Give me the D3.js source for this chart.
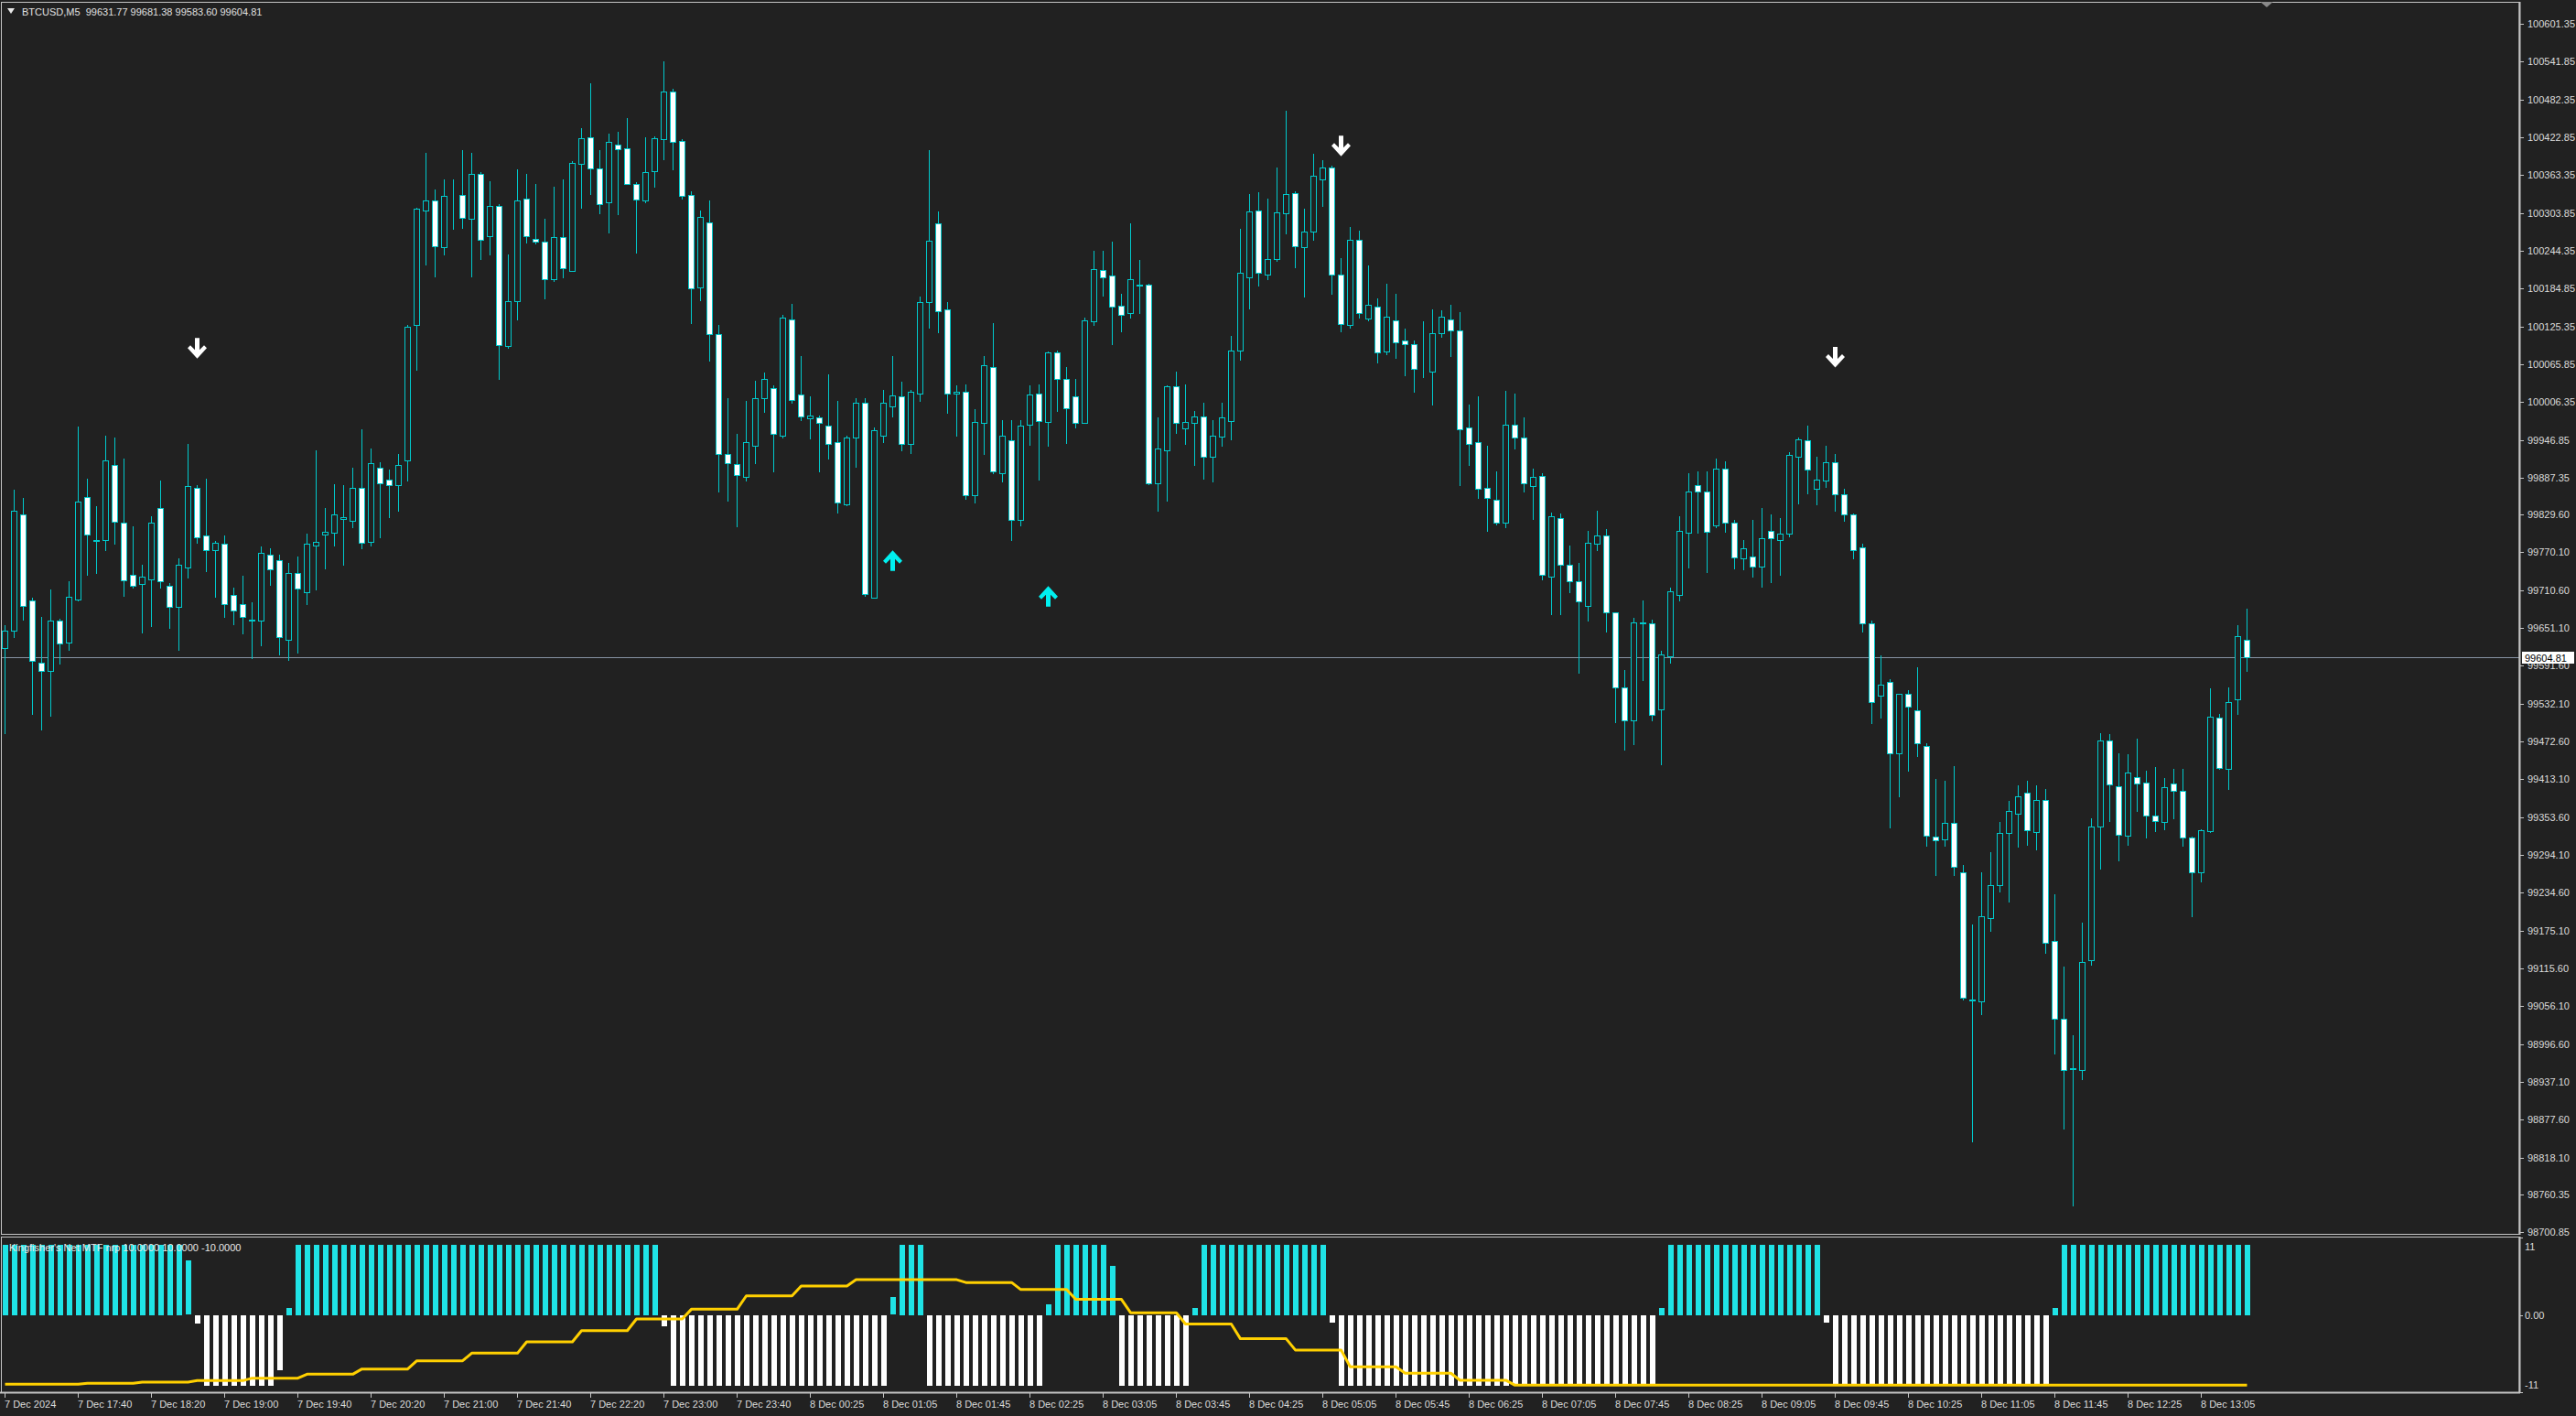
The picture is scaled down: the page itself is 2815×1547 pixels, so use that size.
<!DOCTYPE html>
<html><head><meta charset="utf-8">
<script src="https://cdn.jsdelivr.net/npm/d3@7"></script>
<style>
html,body{margin:0;padding:0;background:#212121;overflow:hidden}
svg{display:block}
text{font-family:"Liberation Sans",Arial,sans-serif;font-size:11px}
</style></head><body>
<svg id="c" width="2815" height="1547"></svg>
<script>
// ---------- DATA ----------
const symbolTitle = "BTCUSD,M5";
const lastOHLC = [99631.77, 99681.38, 99583.60, 99604.81];

const opens = [
99619,99647,99830,99694,99596,99583,99663,99628,99696,99857,99789,99789,99908,99816,99735,99720,99727,99840,99717,99684,
99746,99871,99797,99774,99784,99703,99688,99664,99663,99766,99757,99633,99737,99707,99781,99798,99801,99823,99820,99872,
99787,99903,99885,99876,99915,100127,100308,100324,100250,100331,100332,100294,100365,100268,100315,100095,100165,100326,100263,100259,
100199,100266,100213,100381,100423,100374,100320,100412,100405,100350,100324,100370,100420,100495,100417,100332,100187,100289,100113,99924,
99909,99888,
99938,100012,100029,99954,100137,100018,99981,99982,99969,99943,99846,99950,100006,99699,99954,99999,100016,99940,100019,100163,
100288,100152,100020,100023,99860,99973,100061,99895,99946,99821,99971,100019,99975,100085,100043,100016,99974,100133,100214,100205,
100158,100147,100191,100191,99878,99931,100031,99965,99974,99984,99921,99952,99977,100087,100202,100308,100207,100232,100304,100335,
100250,100274,100357,100376,100207,100127,100261,100138,100156,100086,100135,100103,100097,100059,100054,100115,100137,100119,99966,99943,
99872,99853,
99817,99971,99950,99874,99890,99732,99824,99750,99725,99686,99783,99796,99675,99557,99506,99660,99658,99523,99607,99703,
99801,99875,99866,99812,99902,99817,99760,99764,99748,99804,99789,99799,99921,99946,99870,99883,99911,99861,99830,99778,
99659,99544,99566,99454,99547,99521,99466,99323,99319,99345,99266,99066,99064,99195,99247,99328,99359,99392,99330,99381,
99158,99036,98958,98956,99129,99339,99474,99402,99324,99417,99408,99356,99346,99406,99395,99322,99267,99332,99510,99429,
99539,99631.77];

const highs = [
99656,99869,99855,99698,99668,99712,99666,99724,99968,99886,99843,99954,99951,99918,99811,99750,99827,99883,99722,99760,
99940,99876,99886,99788,99797,99715,99733,99692,99779,99776,99767,99753,99764,99799,99930,99839,99877,99876,99903,99963,
99933,99912,99900,99924,100127,100312,100399,100341,100357,100357,100402,100398,100368,100354,100317,100238,100373,100365,100350,100294,
100345,100356,100386,100437,100508,100402,100428,100432,100453,100352,100423,100424,100542,100499,100420,100338,100307,100324,100127,100013,
99956,100008,
100040,100053,100032,100144,100161,100078,100015,99985,100050,100008,99953,100012,100012,99967,100025,100078,100038,100026,100172,100403,
100306,100163,100032,100034,99995,100079,100130,99978,99978,99978,100033,100034,100086,100087,100062,100043,100139,100245,100245,100258,
100177,100288,100230,100193,99982,100033,100054,100034,99992,100006,99978,100006,100111,100279,100334,100336,100326,100376,100464,100338,
100311,100397,100387,100378,100233,100282,100276,100221,100169,100193,100177,100122,100103,100134,100152,100151,100160,100148,100002,100015,
99937,99898,
100024,100019,99982,99902,99895,99833,99831,99780,99753,99803,99836,99807,99676,99585,99667,99695,99664,99615,99714,99827,
99894,99897,99898,99918,99913,99821,99789,99821,99840,99830,99824,99927,99951,99969,99920,99938,99925,99870,99831,99783,
99663,99608,99570,99548,99553,99589,99469,99413,99411,99434,99278,99184,99266,99299,99346,99379,99403,99411,99403,99397,
99232,99119,99011,99188,99351,99486,99484,99454,99452,99477,99427,99432,99415,99429,99429,99323,99335,99556,99516,99558,
99656,99681.38];

const lows = [
99485,99637,99664,99516,99492,99513,99595,99617,99695,99734,99737,99773,99783,99701,99715,99644,99654,99715,99651,99616,
99731,99785,99740,99700,99668,99657,99643,99603,99624,99719,99609,99600,99612,99689,99712,99744,99781,99751,99809,99776,
99781,99794,99825,99836,99883,100057,100223,100204,100238,100279,100280,100204,100231,100238,100043,100092,100136,100257,100256,100169,
100197,100202,100212,100312,100333,100303,100273,100302,100349,100242,100321,100345,100388,100372,100326,100130,100167,100071,99865,99851,
99811,99883,
99910,99991,99897,99951,100006,99978,99949,99897,99918,99832,99844,99905,99702,99698,99944,99983,99930,99926,100008,100123,
100116,99990,99954,99854,99848,99925,99895,99881,99790,99812,99939,99884,99937,99992,99942,99967,99973,100127,100174,100097,
100118,100139,100147,99877,99835,99851,99958,99940,99907,99886,99882,99937,99947,100073,100153,100190,100200,100228,100272,100218,
100172,100262,100315,100176,100118,100124,100139,100135,100069,100081,100076,100048,100022,100045,100002,100109,100078,99876,99907,99856,
99804,99814,
99810,99934,99865,99822,99728,99672,99672,99707,99581,99663,99774,99645,99503,99459,99468,99569,99506,99436,99597,99695,
99746,99801,99739,99810,99802,99744,99743,99732,99716,99723,99734,99795,99847,99863,99845,99873,99836,99819,99760,99645,
99501,99510,99337,99386,99426,99449,99308,99262,99308,99262,99066,98843,99043,99174,99236,99220,99307,99310,99303,99140,
98981,98864,98742,98942,99121,99273,99348,99285,99310,99363,99321,99331,99335,99351,99308,99197,99253,99330,99429,99397,
99516,99583.60];

const closes = [
99647,99835,99685,99599,99583,99663,99626,99700,99850,99798,99788,99914,99818,99726,99717,99732,99816,99724,99684,99750,
99874,99794,99774,99785,99689,99679,99668,99663,99769,99743,99636,99737,99713,99783,99786,99802,99830,99825,99872,99785,
99910,99878,99876,99908,100125,100311,100324,100251,100331,100330,100296,100365,100261,100315,100096,100165,100324,100268,100259,100199,
100266,100217,100383,100421,100374,100318,100416,100404,100350,100325,100368,100421,100495,100416,100331,100185,100297,100113,99924,99910,
99892,99944,
100013,100043,99956,100139,100010,99983,99985,99973,99941,99848,99951,100006,99705,99962,100006,100017,99940,100023,100164,100260,
100149,100020,100022,99860,99975,100065,99897,99953,99821,99970,100018,99977,100085,100043,99997,99974,100135,100216,100202,100157,
100144,100200,100190,99878,99934,100031,99973,99975,99984,99921,99953,99982,100088,100210,100306,100210,100232,100305,100334,100251,
100275,100362,100376,100207,100129,100261,100146,100160,100085,100140,100101,100097,100059,100058,100115,100140,100119,99963,99940,99870,
99855,99817,
99971,99950,99879,99888,99734,99827,99750,99725,99693,99785,99796,99675,99557,99506,99660,99658,99515,99610,99709,99804,
99866,99866,99802,99902,99817,99762,99777,99748,99792,99792,99800,99923,99947,99900,99884,99911,99861,99830,99773,99659,
99535,99562,99454,99547,99527,99469,99324,99317,99345,99276,99069,99065,99197,99247,99328,99363,99386,99333,99381,99156,
99036,98956,98957,99126,99339,99474,99405,99325,99424,99406,99356,99348,99400,99395,99322,99267,99333,99512,99431,99535,
99638,99604.81];

// signal arrows: bar index and price level of arrow centre
const downSignals = [{bar:21, price:100090}, {bar:146, price:100408}, {bar:200, price:100076}];
const upSignals = [{bar:97, price:99758}, {bar:114, price:99702}];

// Kingfisher histogram (one value per bar)
const histValues = [
10,10,10,10,10,10,10,10,10,10,10,10,10,10,10,10,10,10,10,10,
7.7,-1.2,-10,-10,-10,-10,-10,-10,-10,-10,-7.8,1.0,10,10,10,10,10,10,10,10,
10,10,10,10,10,10,10,10,10,10,10,10,10,10,10,10,10,10,10,10,
10,10,10,10,10,10,10,10,10,10,10,10,-1.5,-10,-10,-10,-10,-10,-10,-10,
-10,-10,-10,-10,-10,-10,-10,-10,-10,-10,-10,-10,-10,-10,-10,-10,-10,2.5,10,10,
10,-10,-10,-10,-10,-10,-10,-10,-10,-10,-10,-10,-10,-10,1.5,10,10,10,10,10,
10,7,-10,-10,-10,-10,-10,-10,-10,-10,1,10,10,10,10,10,10,10,10,10,
10,10,10,10,10,-1,-10,-10,-10,-10,-10,-10,-10,-10,-10,-10,-10,-10,-10,-10,
-10,-10,-10,-10,-10,-10,-10,-10,-10,-10,-10,-10,-10,-10,-10,-10,-10,-10,-10,-10,
-10,1,10,10,10,10,10,10,10,10,10,10,10,10,10,10,10,10,10,-1,
-10,-10,-10,-10,-10,-10,-10,-10,-10,-10,-10,-10,-10,-10,-10,-10,-10,-10,-10,-10,
-10,-10,-10,-10,1,10,10,10,10,10,10,10,10,10,10,10,10,10,10,10,
10,10,10,10,10,10];

// higher-timeframe signal line (one value per bar)
const lineValues = [
-9.87,-9.87,-9.87,-9.87,-9.87,-9.87,-9.87,-9.87,-9.87,
-9.74,-9.74,-9.74,-9.74,-9.74,-9.74,
-9.57,-9.57,-9.57,-9.57,-9.57,-9.57,
-9.35,-9.35,-9.35,-9.35,-9.35,-9.35,
-9.0,-9.0,-9.0,-9.0,-9.0,-9.0,
-8.44,-8.44,-8.44,-8.44,-8.44,-8.44,
-7.7,-7.7,-7.7,-7.7,-7.7,-7.7,
-6.53,-6.53,-6.53,-6.53,-6.53,-6.53,
-5.45,-5.45,-5.45,-5.45,-5.45,-5.45,
-3.84,-3.84,-3.84,-3.84,-3.84,-3.84,
-2.24,-2.24,-2.24,-2.24,-2.24,-2.24,
-0.59,-0.59,-0.59,-0.59,-0.59,-0.59,
0.8,0.8,0.8,0.8,0.8,0.8,
2.7,2.7,2.7,2.7,2.7,2.7,
4.1,4.1,4.1,4.1,4.1,4.1,
5.0,5.0,5.0,5.0,5.0,5.0,5.0,5.0,5.0,5.0,5.0,5.0,
4.6,4.6,4.6,4.6,4.6,4.6,
3.6,3.6,3.6,3.6,3.6,3.6,
2.2,2.2,2.2,2.2,2.2,2.2,
0.3,0.3,0.3,0.3,0.3,0.3,
-1.3,-1.3,-1.3,-1.3,-1.3,-1.3,
-3.4,-3.4,-3.4,-3.4,-3.4,-3.4,
-5.0,-5.0,-5.0,-5.0,-5.0,-5.0,
-7.4,-7.4,-7.4,-7.4,-7.4,-7.4,
-8.3,-8.3,-8.3,-8.3,-8.3,-8.3,
-9.3,-9.3,-9.3,-9.3,-9.3,-9.3,
-10,-10,-10,-10,-10,-10,-10,-10,-10,-10,-10,-10,-10,-10,-10,-10,-10,-10,-10,-10,
-10,-10,-10,-10,-10,-10,-10,-10,-10,-10,-10,-10,-10,-10,-10,-10,-10,-10,-10,-10,
-10,-10,-10,-10,-10,-10,-10,-10,-10,-10,-10,-10,-10,-10,-10,-10,-10,-10,-10,-10,
-10,-10,-10,-10,-10,-10,-10,-10,-10,-10,-10,-10,-10,-10,-10,-10,-10,-10,-10,-10,
-10];

const priceTicks = [100601.35,100541.85,100482.35,100422.85,100363.35,100303.85,100244.35,100184.85,100125.35,100065.85,
100006.35,99946.85,99887.35,99829.60,99770.10,99710.60,99651.10,99591.60,99532.10,99472.60,99413.10,99353.60,99294.10,
99234.60,99175.10,99115.60,99056.10,98996.60,98937.10,98877.60,98818.10,98760.35,98700.85];

const timeLabels = ["7 Dec 2024","7 Dec 17:40","7 Dec 18:20","7 Dec 19:00","7 Dec 19:40","7 Dec 20:20","7 Dec 21:00",
"7 Dec 21:40","7 Dec 22:20","7 Dec 23:00","7 Dec 23:40","8 Dec 00:25","8 Dec 01:05","8 Dec 01:45","8 Dec 02:25",
"8 Dec 03:05","8 Dec 03:45","8 Dec 04:25","8 Dec 05:05","8 Dec 05:45","8 Dec 06:25","8 Dec 07:05","8 Dec 07:45",
"8 Dec 08:25","8 Dec 09:05","8 Dec 09:45","8 Dec 10:25","8 Dec 11:05","8 Dec 11:45","8 Dec 12:25","8 Dec 13:05"];
const barsPerLabel = 8;

const subTicks = [{v:11, t:"11"}, {v:0, t:"0.00"}, {v:-11, t:"-11"}];
const indicatorLegend = "Kingfisher's Net MTF nrp 10.0000 10.0000 -10.0000";

// ---------- STYLE ----------
const BG = "#212121", FRAME = "#c4c4c4", TXT = "#dcdcdc";
const CANDLE = "#00c9cc", HIST_UP = "#1fe3e6", HIST_DN = "#ffffff", LINE = "#ffd000";

// ---------- DRAW ----------
const svg = d3.select("#c");
const plotRight = 2753, mainTop = 2, mainBottom = 1348, subTop = 1351, subBottom = 1521;
svg.append("rect").attr("width",2815).attr("height",1547).attr("fill",BG);

const x = d3.scaleLinear().domain([0, opens.length - 1]).range([5, 5 + 10*(opens.length - 1)]);
const y = d3.scaleLinear().domain([98700.85, 100601.35]).range([1346, 26]);
const ys = d3.scaleLinear().domain([-11, 11]).range([subBottom, subTop + 1]);

// clip paths
const defs = svg.append("defs");
defs.append("clipPath").attr("id","mainClip").append("rect").attr("x",2).attr("y",mainTop+1).attr("width",plotRight-3).attr("height",mainBottom-mainTop-2);
defs.append("clipPath").attr("id","subClip").append("rect").attr("x",2).attr("y",subTop+1).attr("width",plotRight-3).attr("height",subBottom-subTop-2);

// current price line
const lastClose = closes[closes.length-1];
svg.append("line").attr("x1",2).attr("x2",plotRight).attr("y1",Math.round(y(lastClose))+0.5).attr("y2",Math.round(y(lastClose))+0.5)
  .attr("stroke","#8793a3").attr("stroke-width",1);

// candles
const bars = opens.map((o,i)=>({i, o, h:highs[i], l:lows[i], c:closes[i]}));
const gc = svg.append("g").attr("clip-path","url(#mainClip)");
gc.selectAll("line.wick").data(bars).join("line").attr("class","wick")
  .attr("x1", d=>Math.round(x(d.i))+0.5).attr("x2", d=>Math.round(x(d.i))+0.5)
  .attr("y1", d=>Math.round(y(Math.max(d.h,d.o,d.c)))).attr("y2", d=>Math.round(y(Math.min(d.l,d.o,d.c)))+1)
  .attr("stroke", CANDLE).attr("stroke-width",1);
gc.selectAll("rect.body").data(bars).join("rect").attr("class","body")
  .attr("x", d=>Math.round(x(d.i))-2.5)
  .attr("y", d=>Math.round(y(Math.max(d.o,d.c)))+0.5)
  .attr("width", 6)
  .attr("height", d=>Math.max(0, Math.round(y(Math.min(d.o,d.c))) - Math.round(y(Math.max(d.o,d.c)))))
  .attr("fill", d=> d.c >= d.o ? BG : "#ffffff")
  .attr("stroke", CANDLE).attr("stroke-width",1);

// arrows
const downArrow = "M-2.5,-12 L2.5,-12 L2.5,1 L7.5,-4 L10.5,-1 L0,10.5 L-10.5,-1 L-7.5,-4 L-2.5,1 Z";
const upArrow = "M-2.5,12 L2.5,12 L2.5,-1 L7.5,4 L10.5,1 L0,-10.5 L-10.5,1 L-7.5,4 L-2.5,-1 Z";
gc.selectAll("path.dn").data(downSignals).join("path").attr("class","dn")
  .attr("transform", d=>`translate(${x(d.bar)+0.5},${y(d.price)})`).attr("d", downArrow).attr("fill","#ffffff");
gc.selectAll("path.up").data(upSignals).join("path").attr("class","up")
  .attr("transform", d=>`translate(${x(d.bar)+0.5},${y(d.price)})`).attr("d", upArrow).attr("fill","#00f0f0");

// subwindow histogram
const gs = svg.append("g").attr("clip-path","url(#subClip)");
const hd = histValues.map((v,i)=>({i,v}));
gs.selectAll("rect.h").data(hd).join("rect").attr("class","h")
  .attr("x", d=>x(d.i)-2).attr("width",6)
  .attr("y", d=>Math.round(Math.min(ys(d.v), ys(0))))
  .attr("height", d=>Math.max(1, Math.round(Math.abs(ys(d.v)-ys(0)))))
  .attr("fill", d=> d.v >= 0 ? HIST_UP : HIST_DN);
// signal line
const lineGen = d3.line().x(d=>x(d.i)+0.5).y(d=>ys(d.v));
gs.append("path").datum(lineValues.map((v,i)=>({i,v}))).attr("d", lineGen)
  .attr("fill","none").attr("stroke",LINE).attr("stroke-width",3).attr("stroke-linejoin","round");
gs.append("text").attr("x",10).attr("y",1367).attr("fill","#e8e8e8").text(indicatorLegend);

// frames
svg.append("rect").attr("x",1.5).attr("y",mainTop+0.5).attr("width",plotRight-1.5).attr("height",mainBottom-mainTop)
  .attr("fill","none").attr("stroke",FRAME).attr("stroke-width",1);
svg.append("line").attr("x1",plotRight+0.5).attr("x2",plotRight+0.5).attr("y1",mainTop).attr("y2",mainBottom+1).attr("stroke",FRAME).attr("stroke-width",2);
svg.append("rect").attr("x",1.5).attr("y",subTop+0.5).attr("width",plotRight-1.5).attr("height",subBottom-subTop)
  .attr("fill","none").attr("stroke",FRAME).attr("stroke-width",1);
svg.append("line").attr("x1",plotRight+0.5).attr("x2",plotRight+0.5).attr("y1",subTop).attr("y2",subBottom+1).attr("stroke",FRAME).attr("stroke-width",2);
svg.append("line").attr("x1",0).attr("x2",plotRight+1).attr("y1",subBottom+0.5).attr("y2",subBottom+0.5).attr("stroke",FRAME).attr("stroke-width",2);

// price axis
const ga = svg.append("g");
ga.selectAll("line.pt").data(priceTicks).join("line").attr("class","pt")
  .attr("x1",plotRight+1).attr("x2",plotRight+5).attr("y1",d=>Math.round(y(d))+0.5).attr("y2",d=>Math.round(y(d))+0.5)
  .attr("stroke",FRAME);
ga.selectAll("text.pt").data(priceTicks).join("text").attr("class","pt")
  .attr("x",plotRight+9).attr("y",d=>y(d)+4).attr("fill",TXT).text(d=>d.toFixed(2));
// current price tag
const py = Math.round(y(lastClose));
ga.append("rect").attr("x",plotRight+3).attr("y",py-6).attr("width",57).attr("height",13).attr("fill","#ffffff");
ga.append("text").attr("x",plotRight+6).attr("y",py+4.5).attr("fill","#000000").text(lastClose.toFixed(2));

// subwindow axis
ga.selectAll("text.st").data(subTicks).join("text").attr("class","st")
  .attr("x",plotRight+6).attr("y",d=> d.v===11 ? ys(d.v)+14 : d.v===-11 ? ys(d.v)-4 : ys(d.v)+4)
  .attr("fill",TXT).text(d=>d.t);
ga.selectAll("line.st").data(subTicks).join("line").attr("class","st")
  .attr("x1",plotRight+1).attr("x2",plotRight+4)
  .attr("y1",d=>Math.round(ys(d.v))+0.5).attr("y2",d=>Math.round(ys(d.v))+0.5).attr("stroke",FRAME);

// time axis
const tl = timeLabels.map((t,k)=>({t, bar:k*barsPerLabel}));
ga.selectAll("line.tt").data(tl).join("line").attr("class","tt")
  .attr("x1",d=>x(d.bar)+0.5).attr("x2",d=>x(d.bar)+0.5).attr("y1",subBottom+1).attr("y2",subBottom+6).attr("stroke",FRAME);
ga.selectAll("text.tt").data(tl).join("text").attr("class","tt")
  .attr("x",d=>x(d.bar)).attr("y",1538).attr("fill",TXT).text(d=>d.t);

// title
svg.append("path").attr("d","M8,9 L16,9 L12,15 Z").attr("fill","#e8e8e8");
svg.append("text").attr("x",24).attr("y",17).attr("fill","#e0e0e0").attr("xml:space","preserve")
  .text(symbolTitle + "  " + lastOHLC.map(v=>v.toFixed(2)).join(" "));
// chart shift marker
svg.append("path").attr("d","M2470,2 L2484,2 L2477,8 Z").attr("fill","#8a8a8a");
</script>
</body></html>
